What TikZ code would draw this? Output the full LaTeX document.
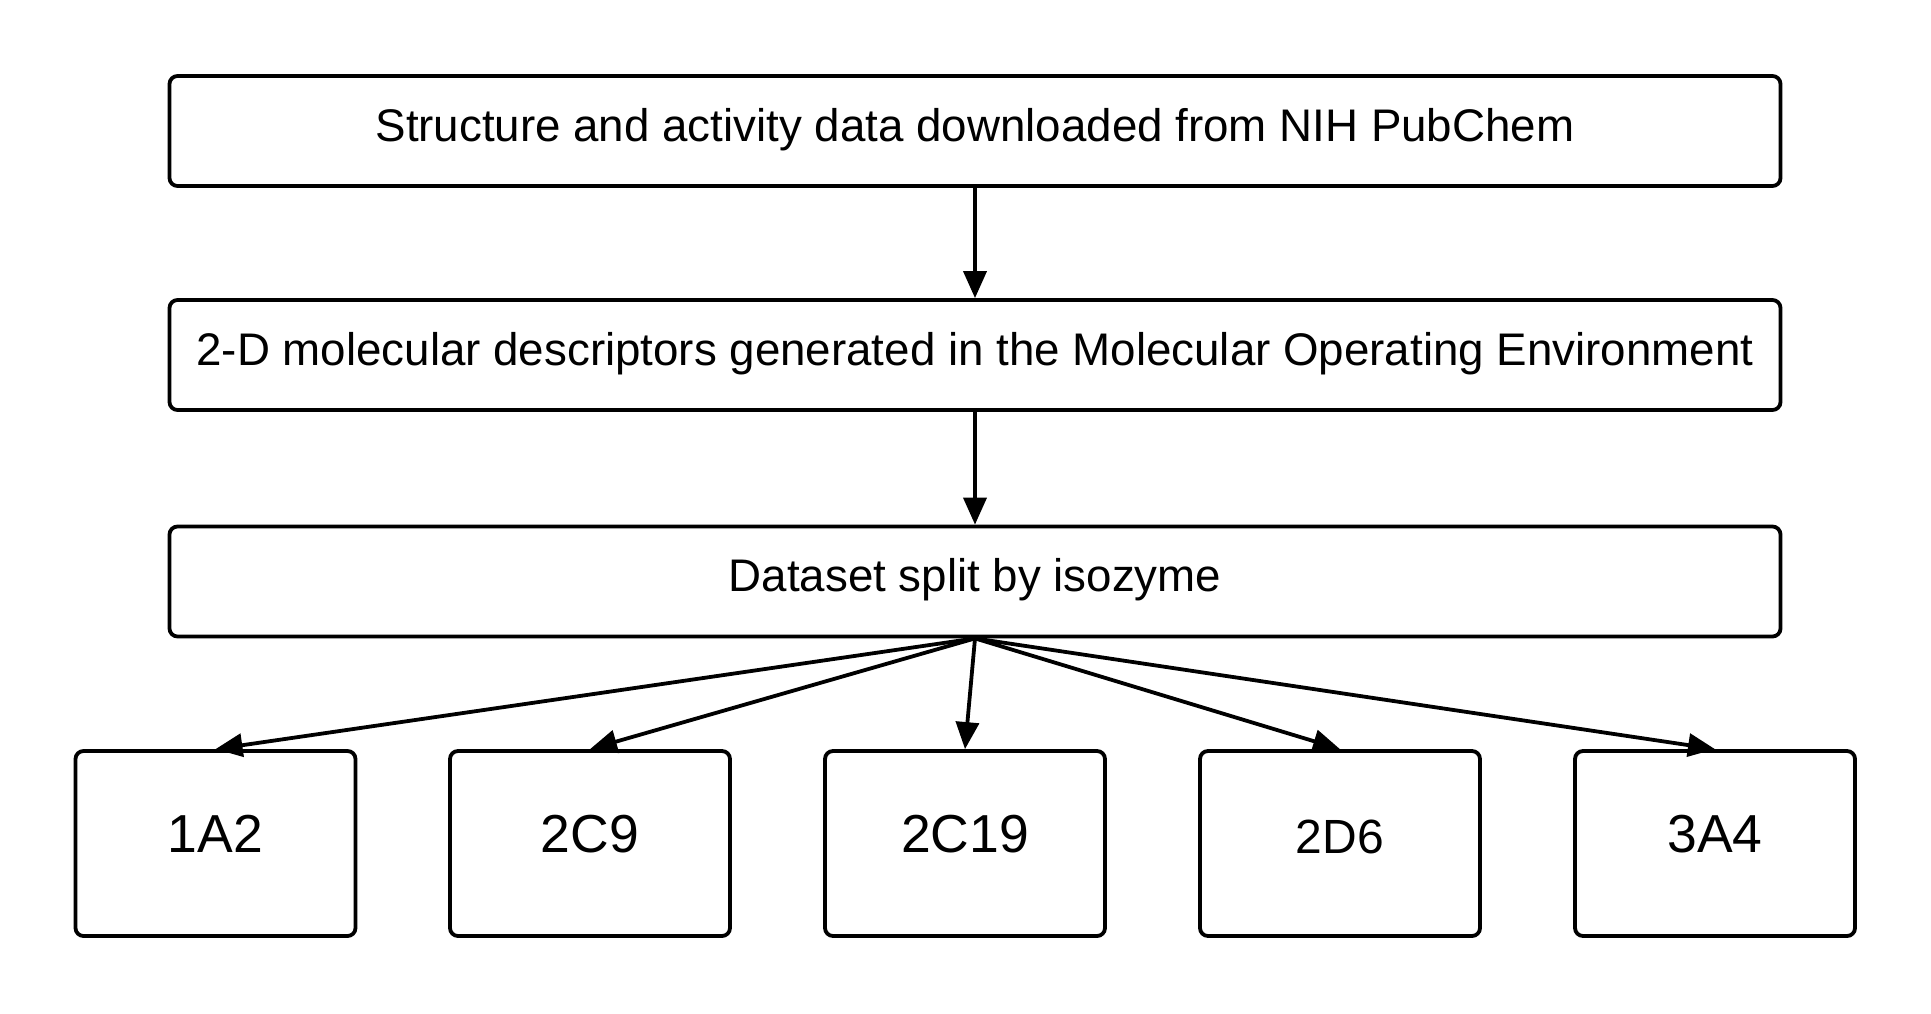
\documentclass[tikz,border=0pt]{standalone}
\usepackage{fontspec}
\setmainfont{Liberation Sans}
\usetikzlibrary{arrows.meta}
\tikzset{
  wide/.style={draw, line width=3.8pt, rounded corners=8pt, minimum width=1611pt, minimum height=110pt,
    inner sep=0pt, font=\fontsize{45.7}{46}\selectfont, text height=33pt, text depth=13pt},
  iso/.style={draw, line width=3.8pt, rounded corners=8pt, minimum width=280pt, minimum height=185pt,
    inner sep=0pt, font=\fontsize{53.5}{54}\selectfont, text height=38pt, text depth=20pt},
  conn/.style={line width=3.8pt, -{Triangle[length=27pt,width=23pt]}}
}
\begin{document}
\begin{tikzpicture}[x=1pt,y=-1pt]
\useasboundingbox[fill=white] (0,0) rectangle (1931,1013);
\node[wide] (pub) at (975,131) {Structure and activity data downloaded from NIH PubChem};
\node[wide] (moe) at (975,355) {2-D molecular descriptors generated in the Molecular Operating Environment};
\node[wide] (split) at (975,581.5) {Dataset split by isozyme};
\node[iso] (a) at (215.5,843.5) {1A2};
\node[iso] (b) at (590,843.5) {2C9};
\node[iso] (c) at (965,843.5) {2C19};
\node[iso, font=\fontsize{48}{48}\selectfont, text height=34pt, text depth=15pt] (d) at (1340,843.5) {2D6};
\node[iso] (e) at (1715,843.5) {3A4};
\draw[conn] (pub) -- (moe);
\draw[conn] (moe) -- (split);
\foreach \t in {a,b,c,d,e}
  \draw[conn] (split.south) -- (\t.north);
\end{tikzpicture}
\end{document}
